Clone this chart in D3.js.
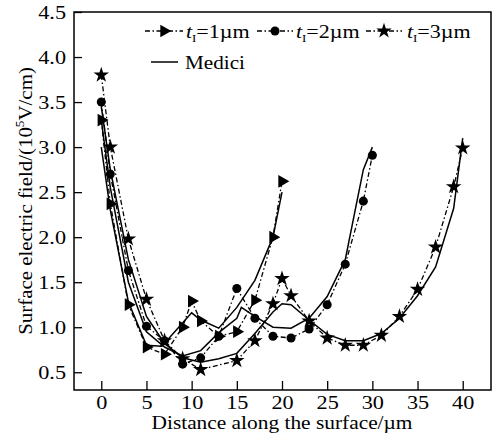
<!DOCTYPE html>
<html><head><meta charset="utf-8">
<script src="https://cdn.jsdelivr.net/npm/d3@7"></script>
<style>body{margin:0;background:#fff}svg{display:block}text{font-family:"Liberation Serif","Times New Roman",serif;fill:#000}</style>
</head><body><svg id="c" width="494" height="443"></svg>
<script>
// Data
const xTicks = [0,5,10,15,20,25,30,35,40];
const yTicks = [0.5,1.0,1.5,2.0,2.5,3.0,3.5,4.0,4.5];
const t1x = [0,1,3,5,7,9,10,11,13,15,17,19,20];
const t1y = [3.3,2.37,1.25,0.78,0.7,1.0,1.29,1.07,0.9,0.95,1.3,2.0,2.62];
const t2x = [0,1,3,5,7,9,11,13,15,17,19,21,23,25,27,29,30];
const t2y = [3.5,2.7,1.63,1.01,0.85,0.59,0.66,0.9,1.43,1.1,0.9,0.88,0.98,1.25,1.7,2.4,2.91];
const t3x = [0,1,3,5,7,9,11,15,17,19,20,21,23,25,27,29,31,33,35,37,39,40];
const t3y = [3.8,3.0,1.98,1.31,0.85,0.65,0.53,0.63,0.85,1.26,1.54,1.35,1.07,0.88,0.8,0.8,0.91,1.12,1.42,1.89,2.56,2.99];
const m1x = [0,1,3,5,6.7,10,11,13,15,17,19,20];
const m1y = [3.0,2.3,1.28,0.8,0.79,1.16,1.08,0.99,1.22,1.52,2.0,2.5];
const m2x = [0,1,3,5,7,9,11,13,15,15.5,17,19,21,23,25,27,28,29,30];
const m2y = [3.3,2.55,1.5,0.95,0.78,0.68,0.74,0.94,1.1,1.22,1.12,1.0,0.99,1.1,1.34,1.75,2.25,2.75,3.0];
const m3x = [0,1,3,5,7,9,11,13,15,17,19,20,21,23,25,27,29,31,33,35,37,39,40];
const m3y = [3.45,2.75,1.75,1.12,0.82,0.66,0.61,0.65,0.71,0.93,1.17,1.26,1.25,1.08,0.92,0.85,0.85,0.93,1.1,1.35,1.67,2.32,3.1];

const svg = d3.select("#c");
const x = d3.scaleLinear().domain([-3.02, 43.13]).range([74, 491]);
const y = d3.scaleLinear().domain([0.303, 4.5]).range([390, 12]);
const FS = 19, STRETCH = 1.17;
function stretch(sel, k){ sel.each(function(){ const w=this.getComputedTextLength(); if(w>0){ d3.select(this).attr("textLength", w*(k||STRETCH)).attr("lengthAdjust","spacingAndGlyphs"); } }); }

// frame
svg.append("rect").attr("x",74).attr("y",12).attr("width",417).attr("height",378)
  .attr("fill","none").attr("stroke","#000").attr("stroke-width",1.5);

// axes
const xa = svg.append("g").attr("transform","translate(0,390)")
  .call(d3.axisBottom(x).tickValues(xTicks).tickSizeInner(-9).tickSizeOuter(0).tickPadding(6).tickFormat(d3.format("d")));
const ya = svg.append("g").attr("transform","translate(74,0)")
  .call(d3.axisLeft(y).tickValues(yTicks).tickSizeInner(-8).tickSizeOuter(0).tickPadding(8).tickFormat(d3.format(".1f")));
[xa,ya].forEach(g=>{g.select(".domain").remove();g.selectAll("line").attr("stroke","#000").attr("stroke-width",1.3);
  g.selectAll("text").attr("font-size",FS).attr("font-family","Liberation Serif").call(stretch);});

// titles
svg.append("text").attr("x",282).attr("y",429).attr("text-anchor","middle").attr("font-size",FS)
  .attr("textLength",261).attr("lengthAdjust","spacingAndGlyphs")
  .text("Distance along the surface/\u00b5m");
const yl = svg.append("text").attr("transform","translate(32,201) rotate(-90)").attr("text-anchor","middle").attr("font-size",FS);
yl.append("tspan").text("Surface electric field/(10");
yl.append("tspan").attr("font-size",12).attr("dy",-8).text("5");
yl.append("tspan").attr("dy",8).text("V/cm)");
stretch(yl, 1.1);

const dash = "5,2.5,1.5,2.5";
const line = d3.line().x(d=>x(d[0])).y(d=>y(d[1]));
const zip = (a,b)=>a.map((v,i)=>[v,b[i]]);

// Medici solid
[[m1x,m1y],[m2x,m2y],[m3x,m3y]].forEach(([a,b])=>{
  svg.append("path").attr("d",line(zip(a,b))).attr("fill","none").attr("stroke","#000").attr("stroke-width",1.5);
});

const tri = d3.symbol().type(d3.symbolTriangle).size(70)();
const cir = d3.symbol().type(d3.symbolCircle).size(64)();
const star = d3.symbol().type(d3.symbolStar).size(75)();
const series = [
  {xs:t1x, ys:t1y, sym:tri, rot:90},
  {xs:t2x, ys:t2y, sym:cir, rot:0},
  {xs:t3x, ys:t3y, sym:star, rot:0}
];
series.forEach(s=>{
  const pts = zip(s.xs,s.ys);
  svg.append("path").attr("d",line(pts)).attr("fill","none").attr("stroke","#000").attr("stroke-width",1.3).attr("stroke-dasharray",dash);
  svg.append("g").selectAll("path").data(pts).join("path").attr("d",s.sym)
    .attr("transform",d=>`translate(${x(d[0])},${y(d[1])}) rotate(${s.rot})`).attr("fill","#000");
});

// legend
const legSyms = [tri, cir, star];
const legRot = [90, 0, 0];
const legVals = ["1","2","3"];
const legX0 = [145, 257, 366], legX1 = [183, 293, 402], legTx = [186, 296, 407];
legVals.forEach((v,i)=>{
  svg.append("line").attr("x1",legX0[i]).attr("x2",legX1[i]).attr("y1",31).attr("y2",31).attr("stroke","#000").attr("stroke-width",1.3).attr("stroke-dasharray",dash);
  svg.append("path").attr("d",legSyms[i]).attr("transform",`translate(${(legX0[i]+legX1[i])/2},31) rotate(${legRot[i]})`).attr("fill","#000");
  const t = svg.append("text").attr("x",legTx[i]).attr("y",38).attr("font-size",FS);
  t.append("tspan").attr("font-style","italic").text("t");
  t.append("tspan").attr("font-size",11).attr("dy",4).text("I");
  t.append("tspan").attr("dy",-4).text("="+v+"\u00b5m");
  stretch(t, 1.16);
});
svg.append("line").attr("x1",151).attr("x2",178).attr("y1",62).attr("y2",62).attr("stroke","#000").attr("stroke-width",1.5);
svg.append("text").attr("x",185).attr("y",69).attr("font-size",FS).attr("textLength",60).attr("lengthAdjust","spacingAndGlyphs").text("Medici");
</script></body></html>
